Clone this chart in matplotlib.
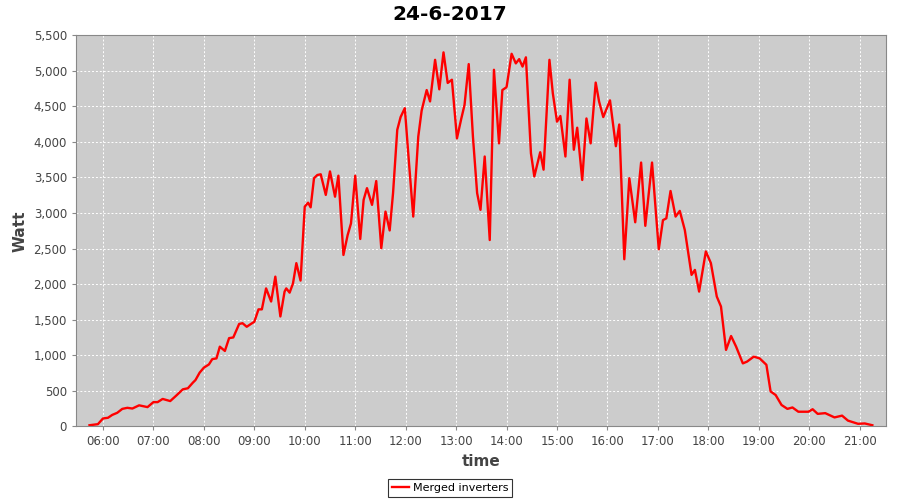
import numpy as np
import matplotlib
matplotlib.use("Agg")
import matplotlib.pyplot as plt
from matplotlib.ticker import FuncFormatter, MultipleLocator

# power readings (time of day, watt)
times = [
    "05:44", "05:54", "06:00", "06:06", "06:11", "06:17", "06:23", "06:29", "06:35", "06:43",
    "06:53", "07:00", "07:05", "07:11", "07:20", "07:27", "07:35", "07:41", "07:47", "07:50",
    "07:55", "08:00", "08:06", "08:10", "08:15", "08:19", "08:25", "08:30", "08:35", "08:38",
    "08:42", "08:46", "08:51", "08:56", "09:00", "09:05", "09:09", "09:14", "09:20", "09:25",
    "09:31", "09:36", "09:38", "09:42", "09:46", "09:50", "09:55", "10:00", "10:04", "10:07",
    "10:11", "10:15", "10:19", "10:25", "10:30", "10:36", "10:40", "10:46", "10:51", "10:55",
    "11:00", "11:06", "11:10", "11:14", "11:20", "11:25", "11:31", "11:36", "11:41", "11:45",
    "11:50", "11:54", "11:59", "12:04", "12:09", "12:15", "12:19", "12:25", "12:29", "12:35",
    "12:40", "12:45", "12:50", "12:55", "13:01", "13:06", "13:10", "13:15", "13:20", "13:25",
    "13:29", "13:34", "13:40", "13:45", "13:51", "13:55", "14:00", "14:06", "14:11", "14:15",
    "14:19", "14:23", "14:29", "14:33", "14:40", "14:44", "14:51", "14:55", "15:00", "15:04",
    "15:10", "15:15", "15:20", "15:24", "15:30", "15:35", "15:40", "15:46", "15:50", "15:55",
    "16:03", "16:10", "16:14", "16:20", "16:26", "16:33", "16:40", "16:45", "16:53", "17:01",
    "17:06", "17:10", "17:15", "17:21", "17:26", "17:32", "17:40", "17:44", "17:49", "17:57",
    "18:03", "18:10", "18:15", "18:21", "18:27", "18:33", "18:41", "18:46", "18:54", "19:01",
    "19:09", "19:14", "19:20", "19:27", "19:34", "19:40", "19:47", "19:59", "20:04", "20:10",
    "20:19", "20:30", "20:39", "20:46", "20:58", "21:06", "21:15",
]
watt = [
    15, 30, 110, 120, 160, 190, 245, 260, 250, 295,
    270, 340, 340, 385, 355, 430, 520, 535, 615, 650,
    755, 825, 870, 945, 955, 1120, 1060, 1240, 1250, 1330,
    1440, 1450, 1400, 1440, 1470, 1645, 1645, 1940, 1755, 2105,
    1545, 1895, 1940, 1880, 2010, 2295, 2050, 3090, 3145, 3080,
    3490, 3535, 3545, 3255, 3585, 3230, 3525, 2410, 2690, 2855,
    3525, 2635, 3185, 3350, 3115, 3450, 2505, 3020, 2755, 3280,
    4170, 4350, 4475, 3700, 2950, 4075, 4440, 4730, 4570, 5155,
    4740, 5260, 4830, 4875, 4050, 4320, 4520, 5095, 4075, 3280,
    3045, 3795, 2620, 5015, 3980, 4730, 4770, 5240, 5105, 5165,
    5060, 5190, 3840, 3515, 3855, 3610, 5155, 4685, 4285, 4365,
    3795, 4875, 3890, 4200, 3465, 4330, 3980, 4835, 4570, 4350,
    4585, 3940, 4245, 2350, 3490, 2870, 3710, 2820, 3710, 2490,
    2900, 2925, 3310, 2950, 3030, 2760, 2130, 2200, 1895, 2460,
    2295, 1825, 1685, 1075, 1270, 1120, 885, 910, 980, 955,
    865, 490, 440, 300, 245, 265, 205, 205, 240, 175,
    185, 125, 150, 80, 35, 40, 15,
]
hour_ticks = list(range(6, 22))
series_name = "Merged inverters"
title = "24-6-2017"

hours = np.array([int(t[:2]) + int(t[3:]) / 60 for t in times])

fig = plt.figure(figsize=(9, 5), dpi=100)
ax = fig.add_axes([0.0844, 0.1474, 0.9, 0.782])
ax.set_facecolor("#cccccc")
ax.plot(hours, watt, color="#ff0000", lw=1.7, label=series_name)

ax.set_xlim(5.465, 21.52)
ax.set_ylim(0, 5500)
ax.set_xticks(hour_ticks)
ax.set_xticklabels(["%02d:00" % h for h in hour_ticks])
ax.yaxis.set_major_locator(MultipleLocator(500))
ax.yaxis.set_major_formatter(FuncFormatter(lambda v, p: "{:,.0f}".format(v)))
ax.grid(True, color="white", ls=(0, (2, 2)), lw=0.7)
ax.set_axisbelow(True)
for s in ax.spines.values():
    s.set_color("#888888")
ax.tick_params(labelsize=8.5, colors="#444444", length=3, color="#888888")

ax.set_xlabel("time", fontsize=11, fontweight="bold", color="#444444", labelpad=4)
ax.set_ylabel("Watt", fontsize=11, fontweight="bold", color="#444444", labelpad=4)
fig.suptitle(title, fontsize=14.5, fontweight="heavy", y=0.99)

leg = fig.legend(loc="lower center", bbox_to_anchor=(0.5, 0.0), frameon=True,
                 fancybox=False, fontsize=8, handlelength=1.6, handletextpad=0.3,
                 borderpad=0.35, borderaxespad=0.25)
leg.get_frame().set_edgecolor("black")
leg.get_frame().set_linewidth(0.8)

fig.savefig("out.png", dpi=100)
